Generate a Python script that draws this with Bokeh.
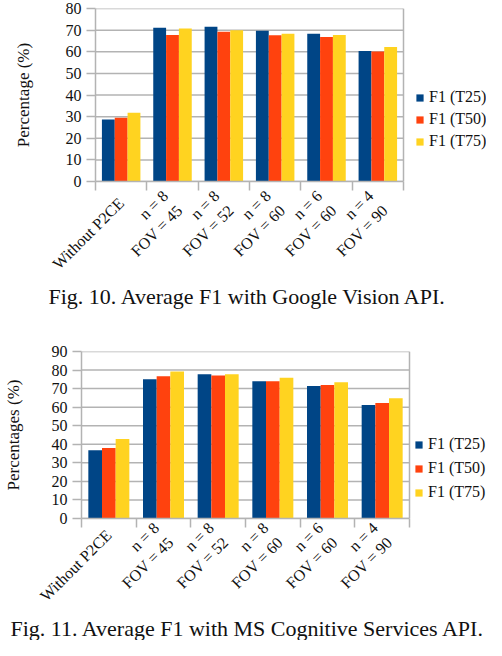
import math
from bokeh.plotting import figure
from bokeh.models import Range1d, FixedTicker, Legend, LegendItem, Title, ColumnDataSource, Span
from bokeh.layouts import column
from bokeh.embed import file_html
from bokeh.resources import INLINE

# ---- data ----
categories = ["Without P2CE", "n = 8\nFOV = 45", "n = 8\nFOV = 52",
              "n = 8\nFOV = 60", "n = 6\nFOV = 60", "n = 4\nFOV = 90"]
series_names = ["F1 (T25)", "F1 (T50)", "F1 (T75)"]

google_t25 = [28.7, 71.1, 71.6, 69.7, 68.3, 60.4]
google_t50 = [29.5, 67.7, 69.3, 67.6, 66.8, 60.1]
google_t75 = [31.8, 70.8, 70.0, 68.3, 67.7, 62.2]

ms_t25 = [36.8, 75.1, 77.7, 73.9, 71.4, 61.2]
ms_t50 = [38.0, 76.7, 77.1, 73.9, 71.9, 62.2]
ms_t75 = [42.8, 79.2, 77.7, 75.9, 73.4, 64.8]

google_yticks = [0, 10, 20, 30, 40, 50, 60, 70, 80]
ms_yticks = [0, 10, 20, 30, 40, 50, 60, 70, 80, 90]

google_ylabel = "Percentage (%)"
ms_ylabel = "Percentages (%)"
google_caption = "Fig. 10.  Average F1 with Google Vision API."
ms_caption = "Fig. 11.  Average F1 with MS Cognitive Services API."

colors = ["#004586", "#ff420e", "#ffd320"]
GRID = "#b3b3b3"
FONT = "Liberation Serif"
TEXT = "#111111"


def make_chart(series, yticks, ylabel, caption, width, height, bl, bt, bb,
               cat_w, legend_x, legend_y, leg_spacing, ylabel_standoff,
               xlabel_standoff, caption_left):
    n = len(categories)
    frame_w = width - bl
    x_end = n * frame_w / cat_w  # the plot box spans only the categories
    p = figure(width=width, height=height, output_backend="svg", toolbar_location=None,
               x_range=Range1d(0, x_end), y_range=Range1d(yticks[0], yticks[-1]),
               min_border_left=bl, min_border_right=0, min_border_top=bt,
               min_border_bottom=bb)
    p.outline_line_color = None
    p.xgrid.grid_line_color = None
    p.ygrid.grid_line_color = None

    # horizontal grid lines limited to the category area, and right border
    p.segment(x0=[0] * len(yticks), x1=[n] * len(yticks), y0=yticks, y1=yticks,
              line_color=GRID, line_width=1.5, level="underlay")
    p.add_layout(Span(location=n, dimension="height", line_color=GRID, line_width=1.5))

    centers = [i + 0.5 for i in range(n)]
    offsets = [-0.25, 0.0, 0.25]
    items = []
    for vals, off, col, name in zip(series, offsets, colors, series_names):
        src = ColumnDataSource(dict(x=[c + off for c in centers], top=vals))
        r = p.vbar(x="x", top="top", bottom=0, width=0.25, source=src,
                   fill_color=col, line_color=None)
        items.append(LegendItem(label=name, renderers=[r]))

    legend = Legend(items=items, location=(legend_x - bl, legend_y), padding=0, margin=0,
                    spacing=leg_spacing, glyph_width=9, glyph_height=9,
                    label_height=16, label_standoff=5,
                    label_text_font=FONT, label_text_font_size="16px",
                    label_text_color=TEXT,
                    background_fill_alpha=0, border_line_color=None)
    p.add_layout(legend)

    xa = p.xaxis[0]
    xa.bounds = (0, n)
    xa.ticker = FixedTicker(ticks=centers, minor_ticks=list(range(n + 1)))
    xa.major_label_overrides = {c: cat for c, cat in zip(centers, categories)}
    xa.major_tick_line_color = None
    xa.major_tick_out = 6
    xa.major_tick_in = 0
    xa.major_label_standoff = xlabel_standoff
    xa.minor_tick_out = 9
    xa.minor_tick_in = 0
    xa.minor_tick_line_color = GRID
    xa.minor_tick_line_width = 1.5
    xa.axis_line_color = GRID
    xa.axis_line_width = 1.5
    xa.major_label_orientation = math.pi / 4
    xa.major_label_text_align = "center"
    xa.major_label_text_font = FONT
    xa.major_label_text_font_size = "16px"
    xa.major_label_text_color = TEXT

    ya = p.yaxis[0]
    ya.ticker = FixedTicker(ticks=yticks)
    ya.major_tick_out = 9
    ya.major_tick_in = 0
    ya.major_tick_line_color = GRID
    ya.major_tick_line_width = 1.5
    ya.minor_tick_line_color = None
    ya.axis_line_color = GRID
    ya.axis_line_width = 1.5
    ya.major_label_standoff = 5
    ya.major_label_text_font = FONT
    ya.major_label_text_font_size = "16px"
    ya.major_label_text_color = TEXT
    ya.axis_label = ylabel
    ya.axis_label_text_font = FONT
    ya.axis_label_text_font_size = "17px"
    ya.axis_label_text_font_style = "normal"
    ya.axis_label_text_color = TEXT
    ya.axis_label_standoff = ylabel_standoff

    p.add_layout(Title(text=caption, align="left", offset=caption_left - bl, text_font=FONT,
                       text_font_size="22px", text_font_style="normal",
                       text_color=TEXT, standoff=0), "below")
    return p


p1 = make_chart([google_t25, google_t50, google_t75], google_yticks, google_ylabel,
                google_caption, 486, 314, 95, 8, 133, 308, 415, 31, 4, 30, 10, 48)
p2 = make_chart([ms_t25, ms_t50, ms_t75], ms_yticks, ms_ylabel,
                ms_caption, 486, 326, 81, 37, 108, 328, 414, 17, 6, 26, 5, 10)

# wrap each chart separately so that their plot frames are not aligned to each other
layout = column(column(p1), column(p2), spacing=0)
open("out.html", "w").write(file_html(layout, INLINE))
